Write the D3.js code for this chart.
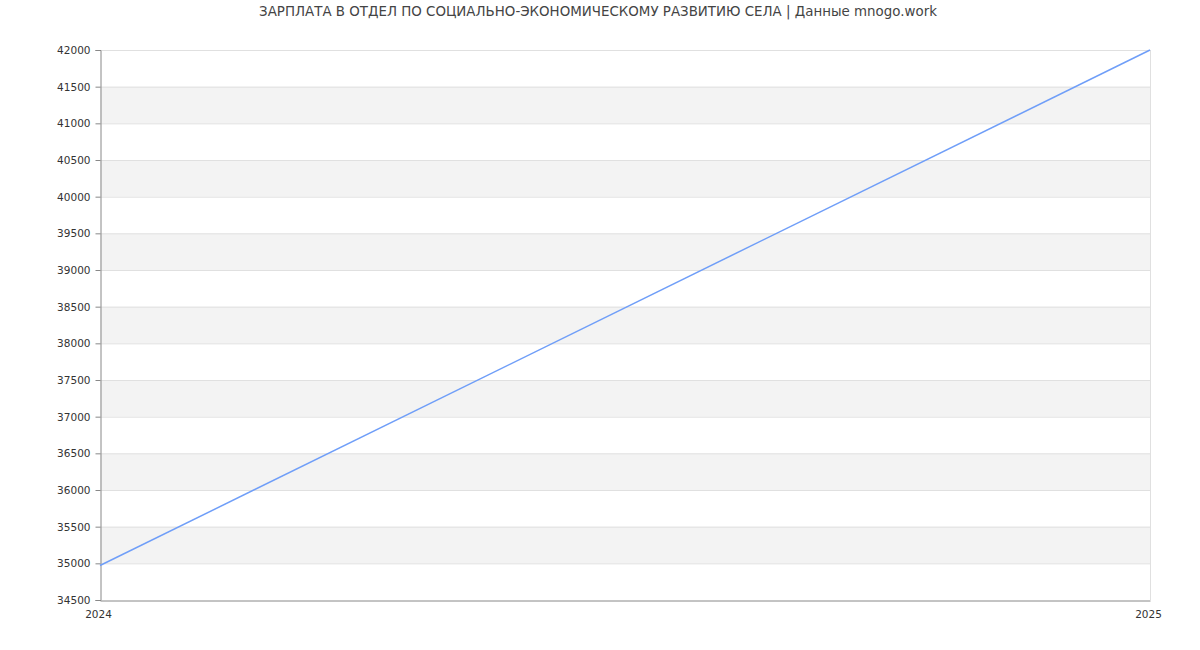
<!DOCTYPE html>
<html><head><meta charset="utf-8">
<script src="https://cdn.jsdelivr.net/npm/d3@7"></script>
<style>body{margin:0;background:#fff;}svg{display:block;font-family:"DejaVu Sans",sans-serif;}</style>
</head><body><svg id="c" width="1200" height="650"></svg>
<script>
const title = "ЗАРПЛАТА В ОТДЕЛ ПО СОЦИАЛЬНО-ЭКОНОМИЧЕСКОМУ РАЗВИТИЮ СЕЛА | Данные mnogo.work";
const years = [2024, 2025];
const salaries = [34970, 42000];
const yTicks = [34500,35000,35500,36000,36500,37000,37500,38000,38500,39000,39500,40000,40500,41000,41500,42000];
const bandStarts = [35000,36000,37000,38000,39000,40000,41000];

const svg = d3.select("#c");
const m = {l:100, r:50, t:50, b:50};
const W = 1200, H = 650;
const x = d3.scaleLinear().domain([2024,2025]).range([m.l, W-m.r]);
const y = d3.scaleLinear().domain([34500,42000]).range([H-m.b, m.t]);

svg.append("text").attr("x",598).attr("y",16).attr("text-anchor","middle")
  .attr("font-size",13.4).attr("fill","#444").text(title);

svg.append("g").selectAll("rect").data(bandStarts).join("rect")
  .attr("x",x(2024)).attr("width",x(2025)-x(2024))
  .attr("y",d=>y(d+500)).attr("height",d=>y(d)-y(d+500)).attr("fill","#f3f3f3");

svg.append("g").selectAll("line").data(yTicks.filter(d=>d>34500)).join("line")
  .attr("x1",x(2024)).attr("x2",x(2025)).attr("y1",d=>y(d)+0.5).attr("y2",d=>y(d)+0.5)
  .attr("stroke","#e0e0e0");
svg.append("line").attr("x1",x(2025)+0.5).attr("x2",x(2025)+0.5).attr("y1",y(42000)).attr("y2",y(34500))
  .attr("stroke","#e0e0e0");

const ya = svg.append("g").attr("transform",`translate(${m.l+0.5},0)`)
  .call(d3.axisLeft(y).tickValues(yTicks).tickSize(5).tickPadding(5).tickFormat(d3.format("d")));
ya.selectAll("path,line").attr("stroke","#888");
ya.selectAll("text").attr("font-size",10.5).attr("fill","#333").attr("font-family","DejaVu Sans");

const xa = svg.append("g").attr("transform",`translate(0,${H-m.b+0.5})`)
  .call(d3.axisBottom(x).tickValues(years).tickSize(0).tickPadding(10).tickFormat(d3.format("d")));
xa.selectAll("path").attr("stroke","#888");
xa.selectAll("text").attr("font-size",10.5).attr("fill","#333").attr("font-family","DejaVu Sans").attr("dx",-2);

const pts = years.map((d,i)=>[d, salaries[i]]);
svg.append("path").datum(pts).attr("fill","none").attr("stroke","#6f9ef8").attr("stroke-width",1.5)
  .attr("d", d3.line().x(d=>x(d[0])).y(d=>y(d[1])));
</script></body></html>
